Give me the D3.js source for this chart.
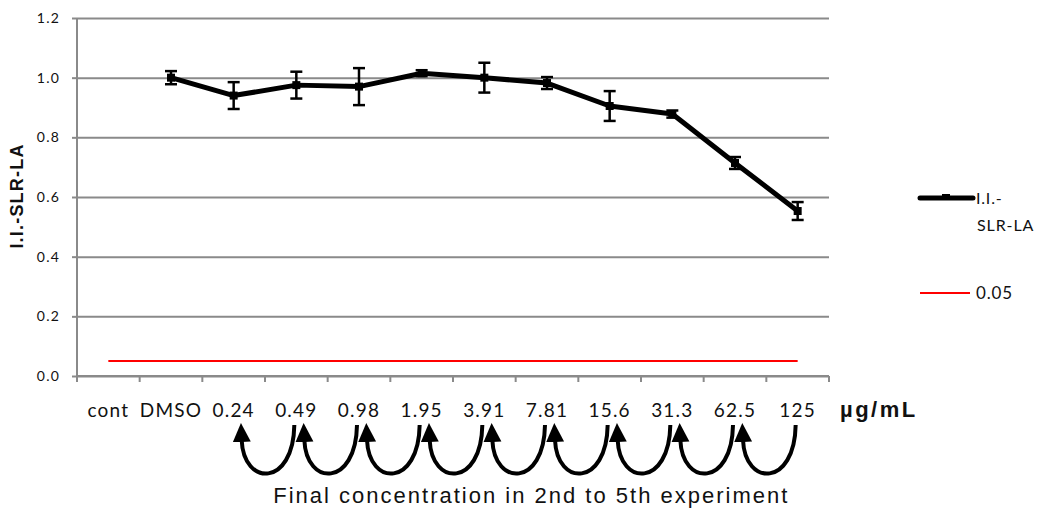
<!DOCTYPE html>
<html>
<head>
<meta charset="utf-8">
<script src="https://cdn.jsdelivr.net/npm/d3@7"></script>
<style>
  body { margin: 0; background: #fff; }
  svg { display: block; }
</style>
</head>
<body>
<div id="chart-area"></div>
<script>
// data
const categories = ["cont", "DMSO", "0.24", "0.49", "0.98", "1.95", "3.91", "7.81", "15.6", "31.3", "62.5", "125"];
const values = [null, 1.00, 0.94, 0.975, 0.97, 1.015, 1.0, 0.982, 0.905, 0.878, 0.714, 0.553];
const errors = [null, 0.022, 0.045, 0.045, 0.062, 0.01, 0.05, 0.02, 0.05, 0.012, 0.02, 0.03];
const threshold = [0.05, 0.05, 0.05, 0.05, 0.05, 0.05, 0.05, 0.05, 0.05, 0.05, 0.05, 0.05];
const yTicks = [0, 0.2, 0.4, 0.6, 0.8, 1.0, 1.2];
const arrowPairs = ["0.24", "0.49", "0.98", "1.95", "3.91", "7.81", "15.6", "31.3", "62.5"]; // arrow from next label back to this one

const W = 1039, H = 513;
const margin = {top: 18, right: 210, bottom: 137, left: 77},
  width = W - margin.left - margin.right,
  height = H - margin.top - margin.bottom;

const grey = "#8a8a8a";
const tickFont = "Lato, 'Open Sans', sans-serif";
const arial = "'Liberation Sans', Arial, sans-serif";

const svg = d3.select("#chart-area")
  .append("svg")
  .attr("width", W)
  .attr("height", H);

const g = svg.append("g")
  .attr("transform", "translate(" + margin.left + "," + margin.top + ")");

const x = d3.scaleBand().domain(categories).range([0, width]).padding(0);
const y = d3.scaleLinear().domain([0, 1.2]).range([height, 0]);
const cx = c => x(c) + x.bandwidth() / 2;

// grid
g.append("g")
  .attr("class", "grid")
  .call(d3.axisLeft(y).tickValues(yTicks).tickSize(-width).tickFormat(""))
  .call(a => a.select(".domain").remove())
  .call(a => a.selectAll("line").attr("stroke", grey).attr("stroke-width", 2));

// y axis
const yAxis = g.append("g")
  .call(d3.axisLeft(y).tickValues(yTicks).tickSize(5).tickPadding(12).tickFormat(d3.format(".1f")));
yAxis.select(".domain").attr("stroke", grey).attr("stroke-width", 2).attr("d", "M0," + height + "V0");
yAxis.selectAll("line").attr("stroke", grey).attr("stroke-width", 2);
yAxis.selectAll("text")
  .attr("font-family", tickFont)
  .attr("font-size", "14px")
  .attr("letter-spacing", "1.2px")
  .attr("fill", "#111");

// x axis line and boundary ticks
g.append("line")
  .attr("x1", 0).attr("x2", width)
  .attr("y1", height).attr("y2", height)
  .attr("stroke", grey).attr("stroke-width", 2);
const bounds = categories.map(c => x(c)).concat([width]);
g.selectAll(".xtick")
  .data(bounds)
  .enter().append("line")
  .attr("class", "xtick")
  .attr("x1", d => d).attr("x2", d => d)
  .attr("y1", height).attr("y2", height + 6)
  .attr("stroke", grey).attr("stroke-width", 2);

// category labels
g.selectAll(".xlab")
  .data(categories)
  .enter().append("text")
  .attr("class", "xlab")
  .attr("x", d => cx(d))
  .attr("y", height + 41)
  .attr("text-anchor", "middle")
  .attr("font-family", tickFont)
  .attr("font-size", "19px")
  .attr("letter-spacing", "1.2px")
  .attr("fill", "#111")
  .text(d => d);

g.append("text")
  .attr("x", width + 11)
  .attr("y", height + 41)
  .attr("font-family", arial)
  .attr("font-weight", "bold")
  .attr("font-size", "22px")
  .attr("letter-spacing", "2.5px")
  .attr("fill", "#111")
  .text("µg/mL");

// y label
g.append("text")
  .attr("transform", "rotate(-90)")
  .attr("x", -(height / 2) + 1)
  .attr("y", -54)
  .attr("text-anchor", "middle")
  .attr("font-family", arial)
  .attr("font-weight", "bold")
  .attr("font-size", "18px")
  .attr("letter-spacing", "1.2px")
  .attr("fill", "#111")
  .text("I.I.-SLR-LA");

// threshold line
const lineT = d3.line().x((d, i) => cx(categories[i])).y(d => y(d));
g.append("path")
  .attr("fill", "none")
  .attr("stroke", "#ff0000")
  .attr("stroke-width", 2)
  .attr("d", lineT(threshold));

// main series
const pts = categories.map((c, i) => ({c: c, v: values[i], e: errors[i]})).filter(d => d.v !== null);

const lineMain = d3.line().x(d => cx(d.c)).y(d => y(d.v));
g.append("path")
  .attr("fill", "none")
  .attr("stroke", "#000")
  .attr("stroke-width", 5)
  .attr("stroke-linejoin", "round")
  .attr("d", lineMain(pts));

const eb = g.selectAll(".err").data(pts).enter().append("g").attr("class", "err");
eb.append("line")
  .attr("x1", d => cx(d.c)).attr("x2", d => cx(d.c))
  .attr("y1", d => y(d.v + d.e)).attr("y2", d => y(d.v - d.e))
  .attr("stroke", "#000").attr("stroke-width", 2.5);
eb.append("line")
  .attr("x1", d => cx(d.c) - 6).attr("x2", d => cx(d.c) + 6)
  .attr("y1", d => y(d.v + d.e)).attr("y2", d => y(d.v + d.e))
  .attr("stroke", "#000").attr("stroke-width", 2.5);
eb.append("line")
  .attr("x1", d => cx(d.c) - 6).attr("x2", d => cx(d.c) + 6)
  .attr("y1", d => y(d.v - d.e)).attr("y2", d => y(d.v - d.e))
  .attr("stroke", "#000").attr("stroke-width", 2.5);

g.selectAll(".mk").data(pts).enter().append("rect")
  .attr("class", "mk")
  .attr("x", d => cx(d.c) - 4).attr("y", d => y(d.v) - 4)
  .attr("width", 8).attr("height", 8)
  .attr("fill", "#000");

// legend
const leg = svg.append("g");
leg.append("line")
  .attr("x1", 920).attr("x2", 973).attr("y1", 198).attr("y2", 198)
  .attr("stroke", "#000").attr("stroke-width", 5).attr("stroke-linecap", "round");
leg.append("rect")
  .attr("x", 942).attr("y", 194).attr("width", 8).attr("height", 6).attr("fill", "#000");
leg.append("text")
  .attr("x", 976).attr("y", 204)
  .attr("font-family", tickFont).attr("font-size", "16px").attr("fill", "#111")
  .attr("letter-spacing", "0.8px")
  .text("I.I.-");
leg.append("text")
  .attr("x", 977).attr("y", 231)
  .attr("font-family", tickFont).attr("font-size", "16px").attr("fill", "#111")
  .attr("letter-spacing", "0.9px")
  .text("SLR-LA");
leg.append("line")
  .attr("x1", 920).attr("x2", 970).attr("y1", 293).attr("y2", 293)
  .attr("stroke", "#ff0000").attr("stroke-width", 2);
leg.append("text")
  .attr("x", 976).attr("y", 299)
  .attr("font-family", tickFont).attr("font-size", "17px").attr("fill", "#111")
  .attr("letter-spacing", "0.8px")
  .text("0.05");

// curved arrows under the labels
svg.append("defs").append("marker")
  .attr("id", "head")
  .attr("markerUnits", "userSpaceOnUse")
  .attr("markerWidth", 22).attr("markerHeight", 22)
  .attr("refX", 2).attr("refY", 11)
  .attr("orient", "auto")
  .append("path")
  .attr("d", "M0,2 L19,11 L0,20 Z")
  .attr("fill", "#000");

const arrowTop = height + 49, arrowLow = height + 111;
g.selectAll(".arr")
  .data(arrowPairs)
  .enter().append("path")
  .attr("class", "arr")
  .attr("fill", "none")
  .attr("stroke", "#000")
  .attr("stroke-width", 4)
  .attr("marker-end", "url(#head)")
  .attr("d", d => {
    const i = categories.indexOf(d);
    const t = cx(categories[i + 1]) - 2, h = cx(d) + 7;
    return "M" + t + "," + arrowTop +
      " C" + (t - 1) + "," + arrowLow + " " + (h + 3) + "," + arrowLow + " " + (h + 1) + "," + (arrowTop + 15);
  });

g.append("text")
  .attr("x", cx("3.91") + 47)
  .attr("y", height + 127)
  .attr("text-anchor", "middle")
  .attr("font-family", arial)
  .attr("font-size", "22px")
  .attr("letter-spacing", "2px")
  .attr("fill", "#111")
  .text("Final concentration in 2nd to 5th experiment");
</script>
</body>
</html>
